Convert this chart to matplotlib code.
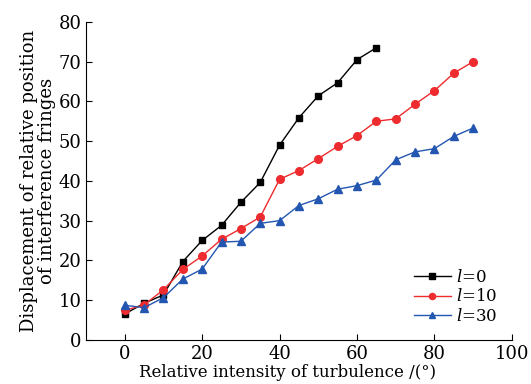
import matplotlib
matplotlib.use("Agg")
import matplotlib.pyplot as plt

plt.rcParams["font.family"] = "DejaVu Serif"
plt.rcParams["mathtext.fontset"] = "dejavuserif"

x0 = [0, 5, 10, 15, 20, 25, 30, 35, 40, 45, 50, 55, 60, 65]
y0 = [6.5, 9.2, 11.3, 19.7, 25.0, 28.8, 34.6, 39.6, 49.0, 55.9, 61.4, 64.7, 70.5, 73.5]

x_all = [0, 5, 10, 15, 20, 25, 30, 35, 40, 45, 50, 55, 60, 65, 70, 75, 80, 85, 90]
y10 = [7.4, 8.8, 12.6, 17.7, 21.1, 25.3, 28.0, 30.9, 40.4, 42.6, 45.6, 48.7, 51.4,
       55.0, 55.6, 59.3, 62.7, 67.1, 70.0]
y30 = [8.7, 8.1, 10.6, 15.3, 17.8, 24.6, 24.8, 29.3, 30.0, 33.8, 35.5, 37.9, 38.8,
       40.2, 45.3, 47.3, 48.1, 51.2, 53.3]

fig = plt.figure(figsize=(5.31, 3.84), dpi=100)
ax = fig.add_axes([0.162, 0.115, 0.802, 0.828])

ax.plot(x0, y0, "s-", color="black", lw=1, ms=5, label="$l$=0")
ax.plot(x_all, y10, "o-", color="#ee2b2e", lw=1, ms=5.5, label="$l$=10")
ax.plot(x_all, y30, "^-", color="#2356b0", lw=1, ms=6, label="$l$=30")

ax.set_xlim(-10, 100)
ax.set_ylim(0, 80)
ax.set_xticks([0, 20, 40, 60, 80, 100])
ax.set_yticks(range(0, 81, 10))
ax.tick_params(direction="in", length=4, labelsize=13, pad=3)
ax.tick_params(axis="x", pad=4)
for s in ["top", "right"]:
    ax.spines[s].set_visible(False)

ax.set_xlabel("Relative intensity of turbulence /(°)", fontsize=12)
ax.xaxis.set_label_coords(0.473, -0.075)
ax.set_ylabel("Displacement of relative position\nof interference fringes",
              fontsize=13, labelpad=2, linespacing=1.0)
ax.legend(loc="lower right", bbox_to_anchor=(1.0, 0.0), frameon=False,
          fontsize=12, handlelength=2.2, handletextpad=0.3, labelspacing=0.15,
          markerscale=0.8)

fig.savefig("out.png", dpi=100)
